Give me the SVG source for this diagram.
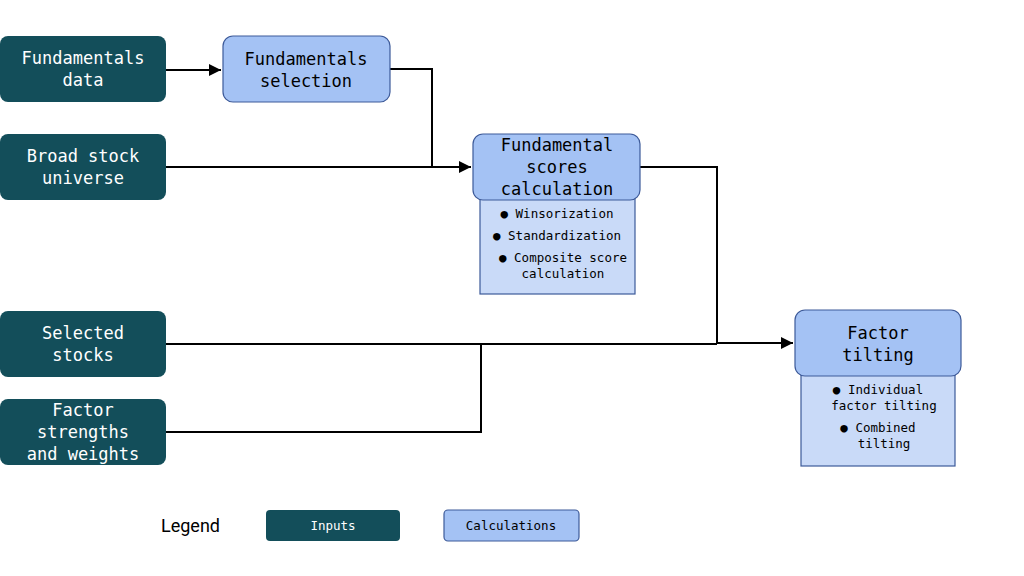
<svg xmlns="http://www.w3.org/2000/svg" width="1024" height="576" viewBox="0 0 1024 576">
<style>
.in{fill:#134e5a;}
.calc{fill:#a4c2f4;stroke:#3d5a99;stroke-width:1.2;}
.sub{fill:#c9daf8;stroke:#3d5a99;stroke-width:1.2;}
.tw{fill:#fff;font-family:"DejaVu Sans Mono",monospace;font-size:17px;text-anchor:middle;}
.tb{fill:#000;font-family:"DejaVu Sans Mono",monospace;font-size:17px;text-anchor:middle;}
.ts{fill:#000;font-family:"DejaVu Sans Mono",monospace;font-size:12.5px;text-anchor:middle;}
.c{fill:none;stroke:#000;stroke-width:2;}
</style>
<defs><marker id="a" viewBox="0 0 10 10" refX="10" refY="5" markerWidth="6" markerHeight="6" orient="auto"><path d="M0,0L10,5L0,10z" fill="#000"/></marker></defs>
<rect width="1024" height="576" fill="#fff"/>
<g id="connectors">
<path class="c" d="M166,70H221" marker-end="url(#a)"/>
<path class="c" d="M390,69H432V167H471" marker-end="url(#a)"/>
<path class="c" d="M166,167H432"/>
<path class="c" d="M640,167H717V343H793" marker-end="url(#a)"/>
<path class="c" d="M166,344H717"/>
<path class="c" d="M166,432H481V344"/>
</g>
<g id="fundamentals-data"><rect class="in" x="0" y="36" width="166" height="66" rx="8"/><text class="tw" x="83" y="64">Fundamentals</text><text class="tw" x="83" y="86">data</text></g>
<g id="broad-stock-universe"><rect class="in" x="0" y="134" width="166" height="66" rx="8"/><text class="tw" x="83" y="162">Broad stock</text><text class="tw" x="83" y="184">universe</text></g>
<g id="selected-stocks"><rect class="in" x="0" y="311" width="166" height="66" rx="8"/><text class="tw" x="83" y="339">Selected</text><text class="tw" x="83" y="361">stocks</text></g>
<g id="factor-strengths"><rect class="in" x="0" y="399" width="166" height="66" rx="8"/><text class="tw" x="83" y="416">Factor</text><text class="tw" x="83" y="438">strengths</text><text class="tw" x="83" y="460">and weights</text></g>
<g id="fundamentals-selection"><rect class="calc" x="223" y="36" width="167" height="66" rx="10"/><text class="tb" x="306" y="65">Fundamentals</text><text class="tb" x="306" y="87">selection</text></g>
<g id="scores-calculation"><rect class="sub" x="480" y="194" width="155" height="100"/><rect class="calc" x="473" y="134" width="167" height="66" rx="10"/><text class="tb" x="557" y="151">Fundamental</text><text class="tb" x="557" y="173">scores</text><text class="tb" x="557" y="195">calculation</text>
<text class="ts" x="557" y="218">● Winsorization</text><text class="ts" x="557" y="240">● Standardization</text><text class="ts" x="563" y="262">● Composite score</text><text class="ts" x="563" y="278">calculation</text></g>
<g id="factor-tilting"><rect class="sub" x="801" y="370" width="154" height="96"/><rect class="calc" x="795" y="310" width="166" height="66" rx="10"/><text class="tb" x="878" y="339">Factor</text><text class="tb" x="878" y="361">tilting</text>
<text class="ts" x="878" y="394">● Individual</text><text class="ts" x="884" y="410">factor tilting</text><text class="ts" x="878" y="432">● Combined</text><text class="ts" x="884" y="448">tilting</text></g>
<g id="legend"><text x="161" y="532" font-family="Roboto,sans-serif" font-size="18" fill="#000">Legend</text>
<rect class="in" x="266" y="510" width="134" height="31" rx="4"/><text class="tw" x="333" y="530" style="font-size:12.5px">Inputs</text>
<rect class="calc" x="444" y="510" width="135" height="31" rx="4"/><text class="ts" x="511" y="530">Calculations</text></g>
</svg>
